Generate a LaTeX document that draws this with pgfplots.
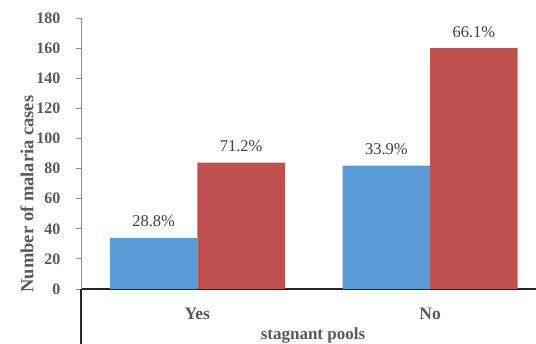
\documentclass[border=0pt]{standalone}
\usepackage{fontspec}
\setmainfont{Liberation Serif}
\usepackage{pgfplots}
\pgfplotsset{compat=1.18}
\definecolor{barblue}{RGB}{91,155,213}
\definecolor{barred}{RGB}{192,80,77}
\definecolor{labgray}{RGB}{89,89,89}
\definecolor{valgray}{RGB}{64,64,64}

\begin{document}
\begin{tikzpicture}
% page frame: the category band below the axis runs down to the bottom edge
\useasboundingbox (-81pt,-55pt) rectangle (455pt,289pt);
\clip (-81pt,-55pt) rectangle (455pt,289pt);
\begin{axis}[
  at={(0,0)}, anchor=south west,
  scale only axis, width=455pt, height=271pt,
  clip=false,
  ybar=0pt, bar width=87.5pt,
  xmin=-0.5, xmax=1.455, ymin=0, ymax=180,
  xtick={0,1}, xticklabels={Yes,No},
  ytick={0,20,...,180},
  axis x line=bottom, axis y line=left,
  x axis line style={-, draw=black!85, line width=1.5pt},
  y axis line style={-, draw=black!45, line width=0.8pt},
  xtick style={draw=none},
  ytick style={draw=black!45, line width=0.8pt},
  tick align=outside, major tick length=4.5pt,
  /pgf/number format/assume math mode=true,
  yticklabel style={font=\fontsize{16}{17}\selectfont\bfseries, text=labgray,
    anchor=east, inner sep=0pt, xshift=-16pt},
  xticklabel style={font=\fontsize{17.5}{18}\selectfont\bfseries, text=labgray,
    anchor=base, inner sep=0pt, yshift=-26pt},
  nodes near coords,
  point meta=explicit symbolic,
  every node near coord/.append style={font=\fontsize{16.5}{17}\selectfont,
    text=valgray, anchor=base, inner sep=0pt, yshift=11pt},
]
\addplot[fill=barblue, draw=none] coordinates {(0,34) [28.8\%] (1,82) [33.9\%]};
\addplot[fill=barred, draw=none] coordinates {(0,84) [71.2\%] (1,160) [66.1\%]};

% left border of the category band below the zero line
\draw[black!85, line width=1.5pt] (rel axis cs:0,0) -- ++(0pt,-70pt);

\path (rel axis cs:0,0) ++(-54pt,95pt)
  node[rotate=90, font=\fontsize{18.5}{19}\selectfont\bfseries, text=labgray] {Number of malaria cases};
\path (rel axis cs:0,0) ++(232pt,-51pt)
  node[anchor=base, inner sep=0pt, font=\fontsize{17}{18}\selectfont\bfseries, text=labgray] {stagnant pools};
\end{axis}
\end{tikzpicture}
\end{document}
